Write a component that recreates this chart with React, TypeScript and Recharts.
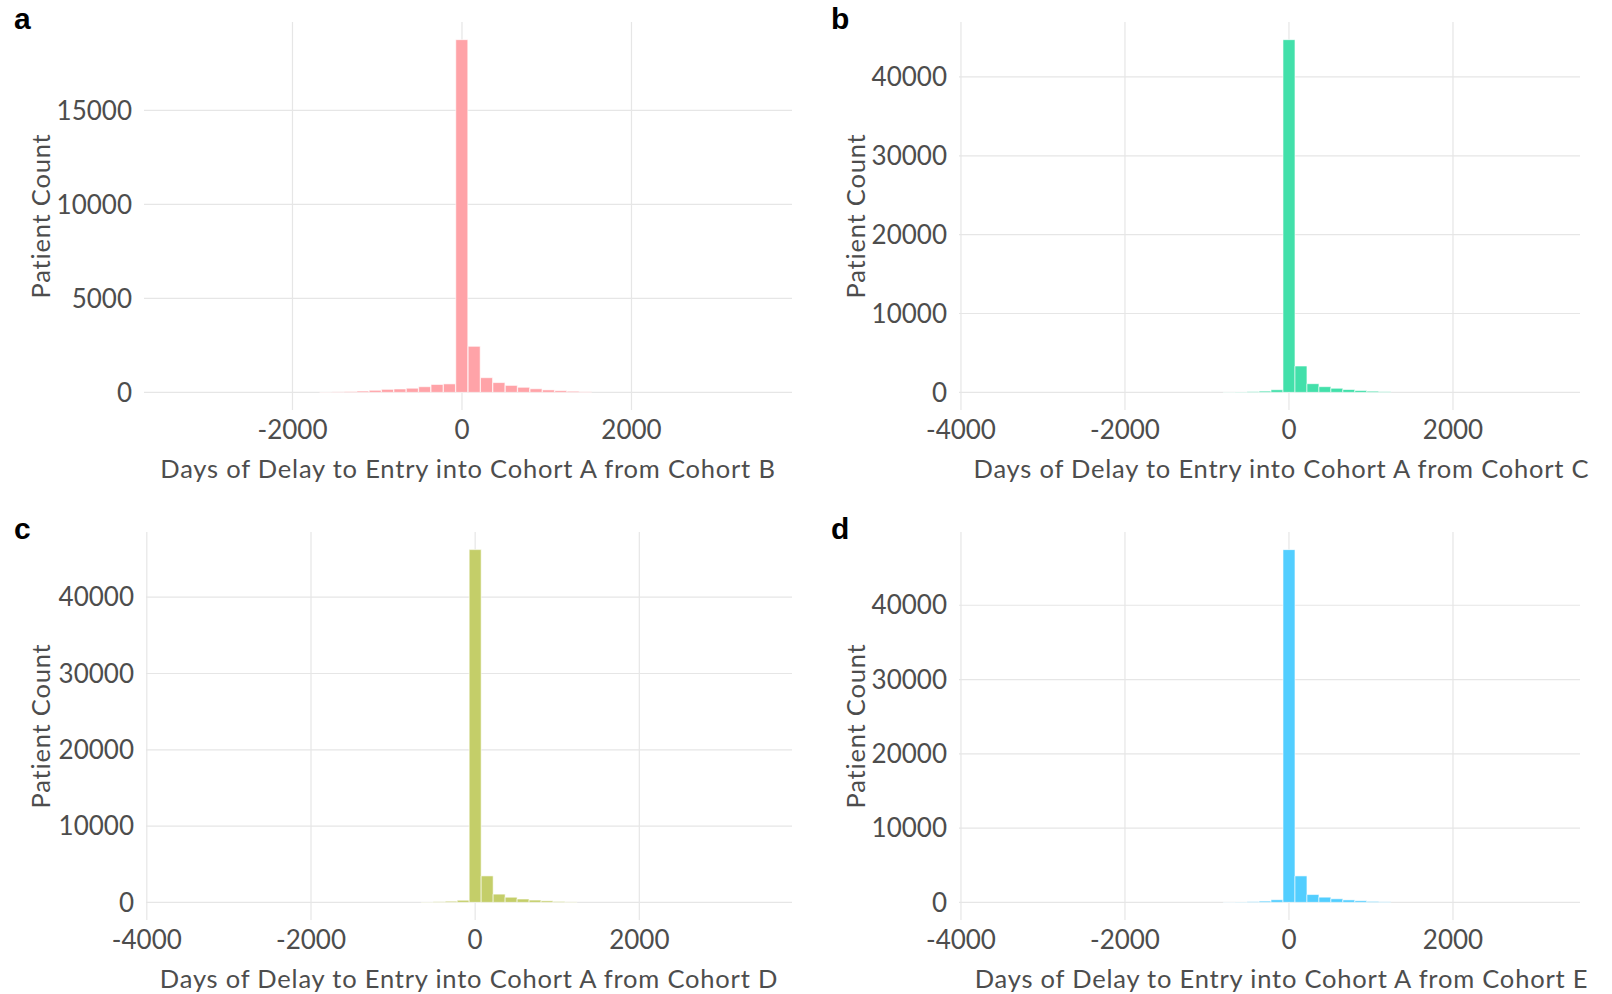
import React from 'react'
import { BarChart, Bar, XAxis, YAxis, CartesianGrid } from 'recharts'

// bin centres (days) and patient counts per panel
const binCentersA = [-1606, -1460, -1314, -1168, -1022, -876, -730, -584, -438, -292, -146, 0, 146, 292, 438, 584, 730, 876, 1022, 1168, 1314, 1460]
const countsA = [15, 25, 45, 70, 110, 160, 180, 220, 300, 420, 450, 18760, 2450, 780, 520, 370, 270, 190, 130, 90, 60, 30]

const binCentersB = [-730, -584, -438, -292, -146, 0, 146, 292, 438, 584, 730, 876, 1022, 1168]
const countsB = [25, 45, 90, 160, 330, 44730, 3340, 1100, 720, 520, 360, 240, 150, 80]

const binCentersC = [-584, -438, -292, -146, 0, 146, 292, 438, 584, 730, 876, 1022, 1168]
const countsC = [40, 80, 150, 280, 46240, 3470, 1080, 680, 440, 300, 200, 120, 60]

const binCentersD = [-730, -584, -438, -292, -146, 0, 146, 292, 438, 584, 730, 876, 1022, 1168]
const countsD = [25, 45, 90, 170, 350, 47490, 3560, 1050, 700, 480, 330, 220, 130, 70]

const xTicksA = [-2000, 0, 2000]
const xTicksWide = [-4000, -2000, 0, 2000]
const yTicksA = [0, 5000, 10000, 15000]
const yTicksBig = [0, 10000, 20000, 30000, 40000]

const FONT = 'Lato, "Noto Sans", sans-serif'
const TEXT = '#4d4d4d'
const GRID = '#e6e6e6'
const W = 806
const H = 484

type PanelProps = {
  letter: string
  letterLeft: number
  title: string
  centers: number[]
  counts: number[]
  color: string
  xDomain: [number, number]
  yDomain: [number, number]
  xTicks: number[]
  yTicks: number[]
  left: number
  top: number
  yAxisWidth: number
  marginRight: number
  yTitleX: number
  titleDx: number
}

// map tick values to pixels, using the axis scale when it is exposed
function toPixels(axis: any, ticks: number[], domain: [number, number], start: number, size: number, flip: boolean) {
  const s = axis && axis.scale
  if (typeof s === 'function') return ticks.map((t) => s(t))
  if (s && typeof s.map === 'function') return ticks.map((t) => s.map(t))
  return ticks.map((t) => {
    const f = (t - domain[0]) / (domain[1] - domain[0])
    return flip ? start + (1 - f) * size : start + f * size
  })
}

function Panel(p: PanelProps) {
  const data = p.centers.map((x, i) => ({ x, count: p.counts[i] }))
  return (
    <div style={{ position: 'absolute', left: p.left, top: p.top, width: W, height: H }}>
      <BarChart
        width={W}
        height={H}
        data={data}
        barCategoryGap={0}
        margin={{ top: 22, right: p.marginRight, bottom: 0, left: 0 }}
      >
        <CartesianGrid
          stroke={GRID}
          strokeWidth={1.2}
          verticalCoordinatesGenerator={({ xAxis, offset }: any) =>
            toPixels(xAxis, p.xTicks, p.xDomain, offset.left, offset.width, false)
          }
          horizontalCoordinatesGenerator={({ yAxis, offset }: any) =>
            toPixels(yAxis, p.yTicks, p.yDomain, offset.top, offset.height, true)
          }
        />
        <XAxis
          dataKey="x"
          type="number"
          domain={p.xDomain}
          ticks={p.xTicks}
          allowDataOverflow
          height={74}
          axisLine={false}
          tickLine={false}
          tickSize={0}
          tickMargin={11}
          tick={{ fill: TEXT, fontSize: 26, fontFamily: FONT }}
          label={{
            value: p.title,
            position: 'insideTop',
            offset: 50,
            dx: p.titleDx,
            fill: TEXT,
            fontSize: 25.5,
            fontFamily: FONT,
            letterSpacing: 0.8,
          }}
        />
        <YAxis
          type="number"
          domain={p.yDomain}
          ticks={p.yTicks}
          allowDataOverflow
          width={p.yAxisWidth}
          axisLine={false}
          tickLine={false}
          tickSize={0}
          tickMargin={12}
          tick={{ fill: TEXT, fontSize: 26, fontFamily: FONT }}
          label={{
            value: 'Patient Count',
            angle: -90,
            position: 'insideLeft',
            offset: p.yTitleX,
            fill: TEXT,
            fontSize: 25.5,
            fontFamily: FONT,
            letterSpacing: 0.8,
            style: { textAnchor: 'middle' },
          }}
        />
        <Bar
          dataKey="count"
          fill={p.color}
          stroke="#ffffff"
          strokeOpacity={0.6}
          strokeWidth={1}
          isAnimationActive={false}
        />
      </BarChart>
      <div
        style={{
          position: 'absolute',
          left: p.letterLeft,
          top: 2,
          fontFamily: '"Liberation Sans", Arial, sans-serif',
          fontWeight: 'bold',
          fontSize: 30,
          color: '#000',
        }}
      >
        {p.letter}
      </div>
    </div>
  )
}

export default function App() {
  return (
    <div style={{ position: 'absolute', left: 0, top: 0, width: 1612, height: 994, background: '#fff' }}>
      <Panel
        letter="a"
        letterLeft={14}
        title="Days of Delay to Entry into Cohort A from Cohort B"
        centers={binCentersA}
        counts={countsA}
        color="#FFA3A8"
        xDomain={[-3752, 3894]}
        yDomain={[-938, 19700]}
        xTicks={xTicksA}
        yTicks={yTicksA}
        left={0}
        top={0}
        yAxisWidth={144}
        marginRight={14}
        yTitleX={41}
        titleDx={0}
      />
      <Panel
        letter="b"
        letterLeft={25}
        title="Days of Delay to Entry into Cohort A from Cohort C"
        centers={binCentersB}
        counts={countsB}
        color="#42E0AA"
        xDomain={[-4024, 3549]}
        yDomain={[-2237, 46970]}
        xTicks={xTicksWide}
        yTicks={yTicksBig}
        left={806}
        top={0}
        yAxisWidth={153}
        marginRight={32}
        yTitleX={50}
        titleDx={12}
      />
      <Panel
        letter="c"
        letterLeft={14}
        title="Days of Delay to Entry into Cohort A from Cohort D"
        centers={binCentersC}
        counts={countsC}
        color="#C4CE69"
        xDomain={[-4010, 3860]}
        yDomain={[-2312, 48550]}
        xTicks={xTicksWide}
        yTicks={yTicksBig}
        left={0}
        top={510}
        yAxisWidth={146}
        marginRight={14}
        yTitleX={41}
        titleDx={0}
      />
      <Panel
        letter="d"
        letterLeft={25}
        title="Days of Delay to Entry into Cohort A from Cohort E"
        centers={binCentersD}
        counts={countsD}
        color="#52CEFF"
        xDomain={[-4024, 3549]}
        yDomain={[-2375, 49865]}
        xTicks={xTicksWide}
        yTicks={yTicksBig}
        left={806}
        top={510}
        yAxisWidth={153}
        marginRight={32}
        yTitleX={50}
        titleDx={12}
      />
    </div>
  )
}
